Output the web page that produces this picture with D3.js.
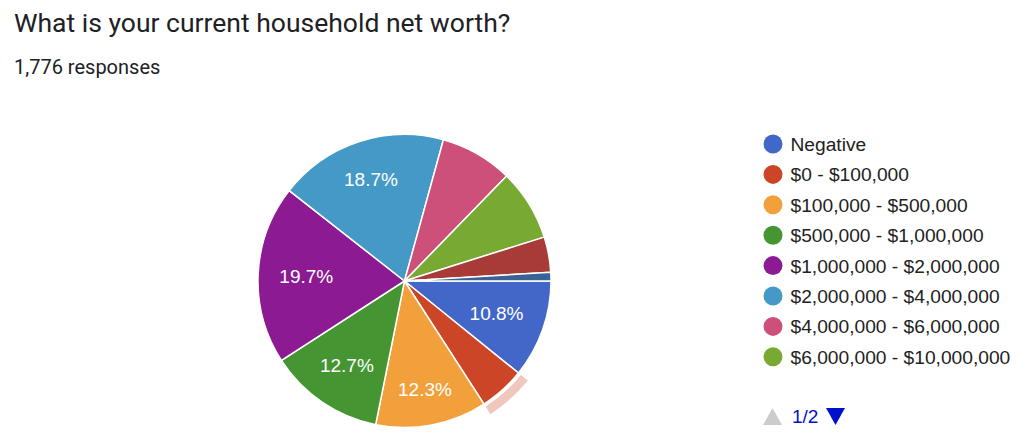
<!DOCTYPE html>
<html>
<head>
<meta charset="utf-8">
<script src="https://cdn.jsdelivr.net/npm/d3@7/dist/d3.min.js"></script>
<style>
  html, body { margin: 0; padding: 0; background: #fff; }
  svg { display: block; }
</style>
</head>
<body>
<svg id="chart" width="1024" height="442"></svg>
<script>
const title = "What is your current household net worth?";
const subtitle = "1,776 responses";
const categories = [
  "Negative",
  "$0 - $100,000",
  "$100,000 - $500,000",
  "$500,000 - $1,000,000",
  "$1,000,000 - $2,000,000",
  "$2,000,000 - $4,000,000",
  "$4,000,000 - $6,000,000",
  "$6,000,000 - $10,000,000",
  "$10,000,000 - $20,000,000",
  "$20,000,000+"
];
const counts = [192, 90, 218, 226, 350, 332, 142, 140, 69, 17];
const colors = ["#4267c8", "#cc4526", "#f2a03b", "#459532", "#8b1a93",
                "#4599c6", "#cc5079", "#78aa33", "#a83a38", "#3b6295"];
const legendPageSize = 8;
const highlightedIndex = 1;

const svg = d3.select("#chart");
const font = "Arial, 'Liberation Sans', sans-serif";

svg.append("text").attr("x", 14).attr("y", 32)
  .attr("font-family", "Roboto, sans-serif").attr("font-size", 26.5)
  .attr("fill", "#202124").text(title);
svg.append("text").attr("x", 14).attr("y", 73.5)
  .attr("font-family", "Roboto, sans-serif").attr("font-size", 20)
  .attr("fill", "#202124").text(subtitle);

const cx = 404.5, cy = 281, R = 146.5;
const total = d3.sum(counts);
const data = categories.map((c, i) => ({ name: c, value: counts[i], color: colors[i] }));

const pie = d3.pie().value(d => d.value).sort(null)
  .startAngle(Math.PI / 2).endAngle(Math.PI / 2 + 2 * Math.PI);
const arcs = pie(data);
const arc = d3.arc().innerRadius(0).outerRadius(R);
const ringArc = d3.arc().innerRadius(R + 3).outerRadius(R + 12);

const g = svg.append("g").attr("transform", `translate(${cx},${cy})`);

g.selectAll("path.slice").data(arcs).enter().append("path")
  .attr("class", "slice")
  .attr("d", arc)
  .attr("fill", d => d.data.color)
  .attr("stroke", "#fff").attr("stroke-width", 1.5);

// hover highlight ring
g.append("path")
  .attr("d", ringArc(arcs[highlightedIndex]))
  .attr("fill", colors[highlightedIndex]).attr("opacity", 0.3);

// label placement: outer corner of the label box sits at a fixed radius
const boxHalfW = 26, boxHalfH = 8, cornerR = R * 0.852;
function labelPos(d) {
  const a = (d.startAngle + d.endAngle) / 2;
  const c = Math.sin(a), s = -Math.cos(a);
  const ax = Math.sign(c) * boxHalfW, by = Math.sign(s) * boxHalfH;
  const p = c * ax + s * by;
  const r = -p + Math.sqrt(p * p - (ax * ax + by * by - cornerR * cornerR));
  return [r * c, r * s];
}

const fmt = d3.format(".1%");
g.selectAll("text.lbl").data(arcs.filter(d => d.endAngle - d.startAngle > 0.6)).enter()
  .append("text").attr("class", "lbl")
  .attr("transform", d => `translate(${labelPos(d)})`)
  .attr("text-anchor", "middle").attr("dy", "0.36em")
  .attr("font-family", font).attr("font-size", 19).attr("fill", "#fff")
  .text(d => fmt(d.data.value / total));

// legend
const lg = svg.append("g").attr("transform", "translate(773,144)");
const items = lg.selectAll("g.item").data(data.slice(0, legendPageSize)).enter()
  .append("g").attr("class", "item")
  .attr("transform", (d, i) => `translate(0,${i * 30.4})`);
items.append("circle").attr("r", 9.5).attr("fill", d => d.color);
items.append("text").attr("x", 17.5).attr("dy", "0.36em")
  .attr("font-family", font).attr("font-size", 19.2).attr("fill", "#222")
  .text(d => d.name);

// pagination
const pg = svg.append("g");
pg.append("path").attr("d", "M763,425 L782,425 L772.5,408 Z").attr("fill", "#cccccc");
pg.append("text").attr("x", 792).attr("y", 423)
  .attr("font-family", font).attr("font-size", 19).attr("fill", "#0011cc").text("1/2");
pg.append("path").attr("d", "M826,408 L845,408 L835.5,425 Z").attr("fill", "#0011cc");
</script>
</body>
</html>
